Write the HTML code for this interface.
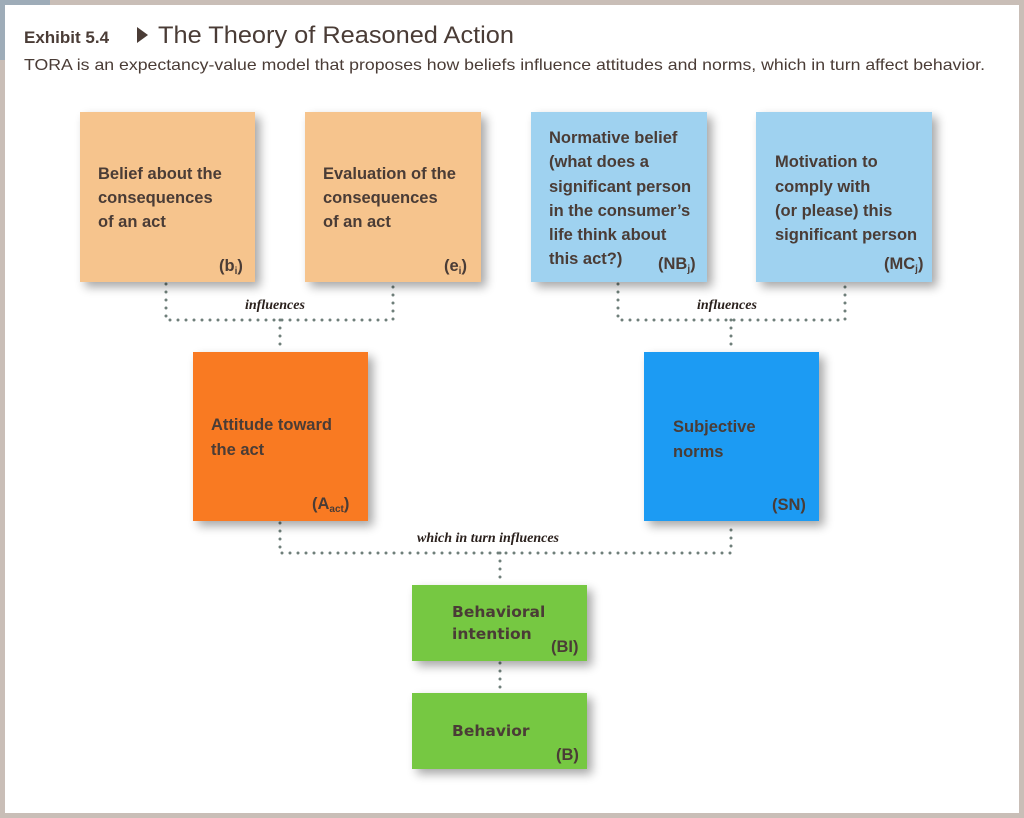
<!DOCTYPE html>
<html><head><meta charset="utf-8"><style>
html,body{margin:0;padding:0;background:#c9beb7;}
svg{display:block}
.t{font-family:"Liberation Sans Narrow","Liberation Sans",sans-serif;font-weight:bold;font-size:16.5px;fill:#4a3c36}
.g{font-family:"DejaVu Sans","Liberation Sans",sans-serif;font-weight:bold;font-size:15.5px;fill:#4a3c36}
.i{font-family:"Liberation Serif",serif;font-style:italic;font-weight:bold;font-size:14px;fill:#2a201c}
.d{stroke:#6f7f7a;stroke-width:3;stroke-linecap:round;stroke-dasharray:0 8;fill:none}
</style></head><body>
<svg width="1024" height="818" xmlns="http://www.w3.org/2000/svg">
<defs><filter id="s" x="-20%" y="-20%" width="150%" height="150%"><feGaussianBlur in="SourceAlpha" stdDeviation="5"/><feOffset dx="5" dy="5"/><feComponentTransfer><feFuncA type="linear" slope="0.35"/></feComponentTransfer><feMerge><feMergeNode/><feMergeNode in="SourceGraphic"/></feMerge></filter></defs>
<rect x="0" y="0" width="1024" height="818" fill="#c9beb7"/>
<rect x="0" y="0" width="50" height="60" fill="#9eacb8"/>
<rect x="5" y="5" width="1014" height="808" fill="#fff"/>
<text x="24" y="43" font-family="Liberation Sans,sans-serif" font-weight="bold" font-size="17" fill="#4a3c36">Exhibit 5.4</text>
<polygon points="137,27 137,43 148,35" fill="#4a3c36"/>
<text x="158" y="43" font-family="Liberation Sans,sans-serif" font-size="24" fill="#4a3c36" textLength="356" lengthAdjust="spacingAndGlyphs">The Theory of Reasoned Action</text>
<text x="24" y="70" font-family="Liberation Sans,sans-serif" font-size="16" fill="#4a3c36" textLength="961" lengthAdjust="spacingAndGlyphs">TORA is an expectancy-value model that proposes how beliefs influence attitudes and norms, which in turn affect behavior.</text>

<g class="d">
<path d="M166 284 V320 H393 V284"/><path d="M280 320 V352"/>
<path d="M618 284 V320 H845 V284"/><path d="M731 320 V352"/>
<path d="M280 523 V553 H731 V523"/><path d="M500 553 V585"/>
<path d="M500 663 V693"/>
</g>
<text class="i" x="245" y="309">influences</text>
<text class="i" x="697" y="309">influences</text>
<text class="i" x="417" y="542">which in turn influences</text>

<g filter="url(#s)">
<rect x="80" y="112" width="175" height="170" fill="#f6c48d"/>
<rect x="305" y="112" width="176" height="170" fill="#f6c48d"/>
<rect x="531" y="112" width="176" height="170" fill="#9fd2f0"/>
<rect x="756" y="112" width="176" height="170" fill="#9fd2f0"/>
<rect x="193" y="352" width="175" height="169" fill="#f97a20"/>
<rect x="644" y="352" width="175" height="169" fill="#1a9bf3"/>
<rect x="412" y="585" width="175" height="76" fill="#76c843"/>
<rect x="412" y="693" width="175" height="76" fill="#76c843"/>
</g>

<g class="t">
<text x="98" y="179">Belief about the</text><text x="98" y="203">consequences</text><text x="98" y="227">of an act</text>
<text x="219" y="271">(b<tspan font-size="10" dy="3">i</tspan><tspan dy="-3">)</tspan></text>
<text x="323" y="179">Evaluation of the</text><text x="323" y="203">consequences</text><text x="323" y="227">of an act</text>
<text x="444" y="271">(e<tspan font-size="10" dy="3">i</tspan><tspan dy="-3">)</tspan></text>
<text x="549" y="143">Normative belief</text><text x="549" y="167">(what does a</text><text x="549" y="192">significant person</text><text x="549" y="216">in the consumer’s</text><text x="549" y="240">life think about</text><text x="549" y="264">this act?)</text>
<text x="658" y="269">(NB<tspan font-size="10" dy="3">j</tspan><tspan dy="-3">)</tspan></text>
<text x="775" y="167">Motivation to</text><text x="775" y="192">comply with</text><text x="775" y="216">(or please) this</text><text x="775" y="240">significant person</text>
<text x="884" y="269">(MC<tspan font-size="10" dy="3">j</tspan><tspan dy="-3">)</tspan></text>
<text x="211" y="430">Attitude toward</text><text x="211" y="455">the act</text>
<text x="312" y="509">(A<tspan font-size="10" dy="3">act</tspan><tspan dy="-3">)</tspan></text>
<text x="673" y="432">Subjective</text><text x="673" y="457">norms</text>
<text x="772" y="510">(SN)</text>
<text x="551" y="652">(BI)</text>
<text x="556" y="760">(B)</text>
</g>
<text class="g" x="452" y="617">Behavioral</text>
<text class="g" x="452" y="639">intention</text>
<text class="g" x="452" y="736">Behavior</text>
</svg>
</body></html>
